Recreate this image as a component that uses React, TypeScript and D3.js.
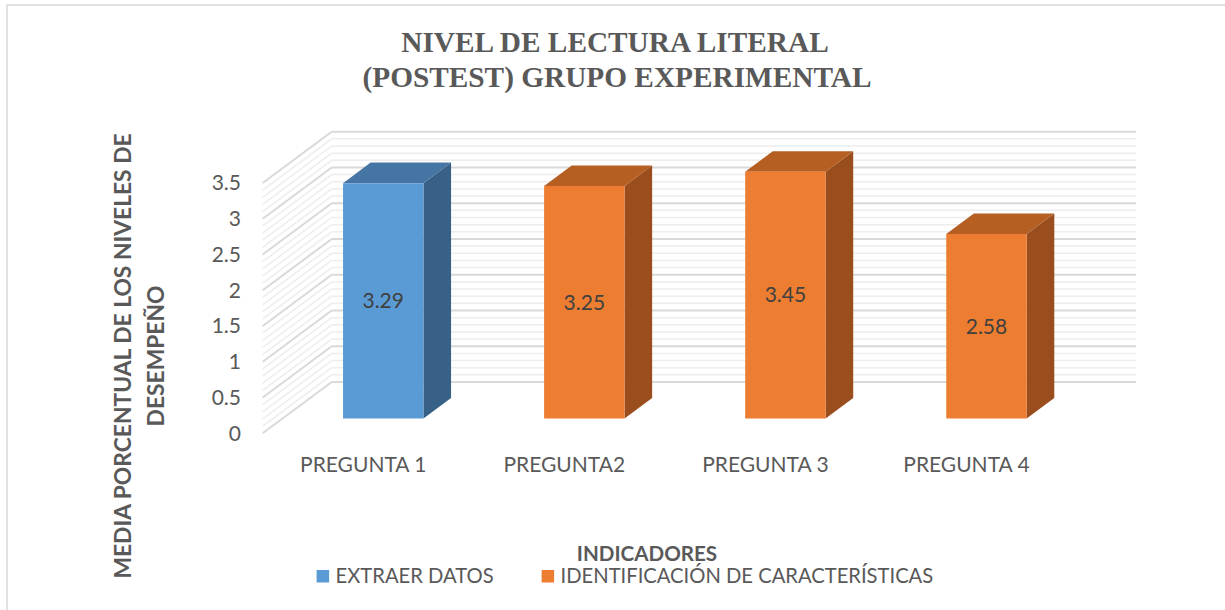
import * as d3 from "d3";

const categories = ["PREGUNTA 1", "PREGUNTA2", "PREGUNTA 3", "PREGUNTA 4"];
const values = [3.29, 3.25, 3.45, 2.58];
const seriesOf = ["EXTRAER DATOS", "IDENTIFICACIÓN DE CARACTERÍSTICAS", "IDENTIFICACIÓN DE CARACTERÍSTICAS", "IDENTIFICACIÓN DE CARACTERÍSTICAS"];
const legendItems = ["EXTRAER DATOS", "IDENTIFICACIÓN DE CARACTERÍSTICAS"];
const yTicks = [0, 0.5, 1, 1.5, 2, 2.5, 3, 3.5];

const W = 1225;
const H = 610;
const FONT = "Lato, 'Open Sans', sans-serif";
const TEXT = "#595959";

// face colours per series: front, top, side
const palette: { [k: string]: [string, string, string] } = {
  "EXTRAER DATOS": ["#5b9bd5", "#4575a3", "#386187"],
  "IDENTIFICACIÓN DE CARACTERÍSTICAS": ["#ed7d31", "#b65f23", "#9a4e1d"],
};

// oblique 3D: front plane + depth vector
const DX = 69;
const DY = 51.3;
const Z0 = 0.29;
const Z1 = 0.69;

export default function App() {
  const y = d3.scaleLinear().domain([0, 3.5]).range([433.3, 183]);
  const x = d3.scaleBand<string>().domain(categories).range([262.7, 1067]).padding(0);
  const bw = x.bandwidth();

  const px = (xf: number, z: number) => xf + z * DX;
  const py = (v: number, z: number) => y(v) - z * DY;

  const grid = d3.range(0, 36).map((i) => i / 10);
  const xLeft = x.range()[0];
  const xRight = x.range()[1];

  return (
    <svg width={W} height={H} style={{ position: "absolute", left: 0, top: 0, background: "#fff" }}>
      <rect x={7} y={5} width={W + 20} height={H + 20} fill="#fff" stroke="#d9d9d9" strokeWidth={1.5} />

      {/* title */}
      <text x={615} textAnchor="middle" fontFamily="'Liberation Serif', 'Times New Roman', serif" fontWeight="bold" fontSize={29.3} fill={TEXT}>
        <tspan x={615} y={52}>NIVEL DE LECTURA LITERAL</tspan>
        <tspan x={617} y={87}>(POSTEST) GRUPO EXPERIMENTAL</tspan>
      </text>

      {/* walls: minor then major */}
      {[false, true].map((major) =>
        grid
          .filter((v) => (Math.round(v * 10) % 5 === 0) === major)
          .map((v) => (
            <g key={`${major}-${v}`} stroke={major ? "#d9d9d9" : "#ededed"} strokeWidth={major ? 2 : 1.5} fill="none">
              <line x1={px(xLeft, 0)} y1={py(v, 0)} x2={px(xLeft, 1)} y2={py(v, 1)} />
              <line x1={px(xLeft, 1)} y1={py(v, 1)} x2={px(xRight, 1)} y2={py(v, 1)} />
            </g>
          ))
      )}

      {/* y tick labels */}
      {yTicks.map((t) => (
        <text key={t} x={241} y={y(t)} dy="0.35em" textAnchor="end" fontFamily={FONT} fontSize={21} fill={TEXT}>
          {t}
        </text>
      ))}

      {/* bars */}
      {categories.map((c, i) => {
        const v = values[i];
        const [front, top, side] = palette[seriesOf[i]];
        const l = (x(c) as number) + bw * 0.3;
        const r = l + bw * 0.4;
        const facePts = (pts: [number, number, number][]) => pts.map(([xx, vv, z]) => `${px(xx, z)},${py(vv, z)}`).join(" ");
        return (
          <g key={c}>
            <polygon points={facePts([[r, 0, Z0], [r, 0, Z1], [r, v, Z1], [r, v, Z0]])} fill={side} />
            <polygon points={facePts([[l, v, Z0], [r, v, Z0], [r, v, Z1], [l, v, Z1]])} fill={top} />
            <polygon points={facePts([[l, 0, Z0], [r, 0, Z0], [r, v, Z0], [l, v, Z0]])} fill={front} />
            <text x={px((l + r) / 2, Z0)} y={py(v / 2, Z0)} dy="0.35em" textAnchor="middle" fontFamily={FONT} fontSize={21} fill="#404040">
              {v}
            </text>
          </g>
        );
      })}

      {/* category labels */}
      {categories.map((c) => (
        <text key={c} x={(x(c) as number) + bw / 2} y={472} textAnchor="middle" fontFamily={FONT} fontSize={21} fill={TEXT}>
          {c}
        </text>
      ))}

      {/* y axis title */}
      <text transform="translate(0,356) rotate(-90)" textAnchor="middle" fontFamily={FONT} fontWeight="bold" fontSize={22.8} fill={TEXT}>
        <tspan x={0} y={131}>MEDIA PORCENTUAL DE LOS NIVELES DE</tspan>
        <tspan x={0} y={164}>DESEMPEÑO</tspan>
      </text>

      {/* x axis title + legend */}
      <text x={647} y={561} textAnchor="middle" fontFamily={FONT} fontWeight="bold" fontSize={20.6} fill={TEXT}>
        INDICADORES
      </text>
      {legendItems.map((name, i) => {
        const sx = i === 0 ? 316.6 : 541.6;
        return (
          <g key={name}>
            <rect x={sx} y={570} width={12.5} height={12.5} fill={palette[name][0]} />
            <text x={sx + 19} y={583} fontFamily={FONT} fontSize={20.2} fill={TEXT}>
              {name}
            </text>
          </g>
        );
      })}
    </svg>
  );
}
